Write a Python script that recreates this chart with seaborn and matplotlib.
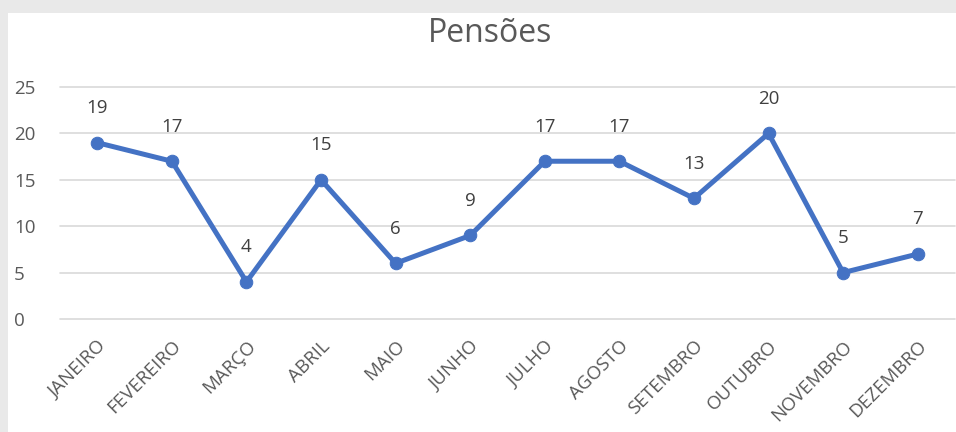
import matplotlib
matplotlib.use("Agg")
import matplotlib.pyplot as plt
import seaborn as sns
import pandas as pd
from matplotlib.patches import Rectangle

meses = ["JANEIRO", "FEVEREIRO", "MARÇO", "ABRIL", "MAIO", "JUNHO",
         "JULHO", "AGOSTO", "SETEMBRO", "OUTUBRO", "NOVEMBRO", "DEZEMBRO"]
pensoes = [19, 17, 4, 15, 6, 9, 17, 17, 13, 20, 5, 7]
y_ticks = [0, 5, 10, 15, 20, 25]

df = pd.DataFrame({"Mes": meses, "Pensoes": pensoes})

sns.set_style("white")
plt.rcParams['font.family'] = ['Open Sans', 'DejaVu Sans']

fig = plt.figure(figsize=(9.56, 4.32), dpi=100)
fig.patch.set_facecolor("#e9e9e9")
fig.patches.append(Rectangle((8 / 956, 0), 1, 1 - 13 / 432, transform=fig.transFigure,
                             facecolor="white", edgecolor="none", zorder=-10))

ax = fig.add_axes([60 / 956, 113 / 432, 895 / 956, 232 / 432])
ax.set_zorder(1)
ax.set_facecolor("none")
sns.lineplot(data=df, x="Mes", y="Pensoes", ax=ax, color="#4472C4", linewidth=3.6,
             marker="o", markersize=9, markeredgecolor="#4472C4", sort=False)

for i, v in enumerate(pensoes):
    ax.annotate(str(v), (i, v), xytext=(0, 25), textcoords="offset points",
                ha="center", va="center", fontsize=13.5, color="#404040")

ax.set_xlim(-0.5, len(meses) - 0.5)
ax.set_ylim(0, 25)
ax.set_yticks(y_ticks)
ax.grid(axis="y", color="#d9d9d9", linewidth=1.2, clip_on=False)
ax.set_axisbelow(True)
for s in ax.spines.values():
    s.set_visible(False)
ax.set_xlabel("")
ax.set_ylabel("")
ax.tick_params(axis="y", length=0, labelsize=13.5, labelcolor="#595959", pad=33)
ax.tick_params(axis="x", length=0, pad=13, labelsize=13.5, labelcolor="#595959")
plt.setp(ax.get_xticklabels(), rotation=45, ha="right", rotation_mode="anchor")
for lbl in ax.get_yticklabels():
    lbl.set_horizontalalignment("left")

fig.text(490 / 956, 1 - 34 / 432, "Pensões", ha="center", va="center",
         fontsize=23, color="#595959")

fig.savefig("out.png", dpi=100, facecolor=fig.get_facecolor())
